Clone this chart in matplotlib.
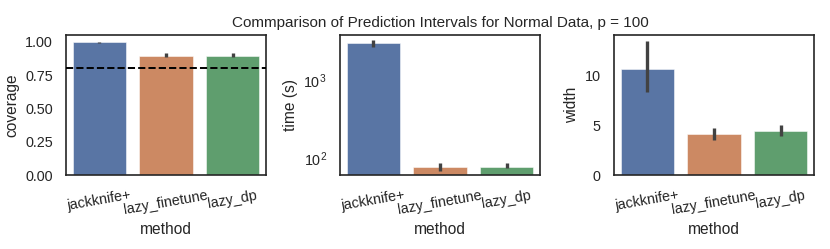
import matplotlib
matplotlib.use("Agg")
import matplotlib.pyplot as plt
import seaborn as sns
import numpy as np

sns.set_theme(style="white")
plt.rcParams['font.family'] = ['Liberation Sans', 'DejaVu Sans']

methods = ["jackknife+", "lazy_finetune", "lazy_dp"]

coverage_mean = [0.995, 0.895, 0.893]
coverage_lo = [0.990, 0.883, 0.882]
coverage_hi = [1.000, 0.918, 0.912]

time_mean = [3000, 75, 77]
time_lo = [2690, 68, 73]
time_hi = [3350, 85, 85]

width_mean = [10.6, 4.07, 4.43]
width_lo = [8.3, 3.5, 3.93]
width_hi = [13.4, 4.67, 5.0]

target_coverage = 0.8
title = "Commparison of Prediction Intervals for Normal Data, p = 100"

base = sns.color_palette("deep", 3)
colors = [sns.desaturate(c, 0.75) for c in base]

fig = plt.figure(figsize=(8.3, 2.49), dpi=100)
W, H = 830, 249
lefts = [66, 340, 614]
axes = []
for l in lefts:
    ax = fig.add_axes([l / W, (H - 175) / H, 200 / W, 140 / H])
    axes.append(ax)

tick_fs = 10.4
label_fs = 11.2
title_fs = 11.0

def draw(ax, mean, lo, hi, ylabel):
    x = np.arange(len(methods))
    ax.bar(x, mean, width=0.8, color=colors, edgecolor=(1, 1, 1, 0.6), linewidth=0.6, zorder=2)
    ax.vlines(x, lo, hi, color=".26", linewidth=2.4, zorder=3, capstyle="butt")
    ax.set_xticks(x)
    ax.set_xticklabels(methods, rotation=10, fontsize=tick_fs)
    ax.set_xlim(-0.5, len(methods) - 0.5)
    ax.set_xlabel("method", fontsize=label_fs)
    ax.set_ylabel(ylabel, fontsize=label_fs)
    ax.tick_params(axis="y", labelsize=tick_fs)
    for s in ax.spines.values():
        s.set_color(".15")
        s.set_linewidth(1.2)

draw(axes[0], coverage_mean, coverage_lo, coverage_hi, "coverage")
axes[0].axhline(target_coverage, color="black", linestyle="--", linewidth=1.4, zorder=4)
axes[0].set_ylim(0, 1.05)
axes[0].set_yticks([0, 0.25, 0.5, 0.75, 1.0])
axes[0].set_yticklabels(["0.00", "0.25", "0.50", "0.75", "1.00"])

draw(axes[1], time_mean, time_lo, time_hi, "time (s)")
axes[1].set_yscale("log")
axes[1].set_ylim(60, 3840)
axes[1].minorticks_off()
axes[1].set_title(title, fontsize=title_fs, pad=6)

draw(axes[2], width_mean, width_lo, width_hi, "width")
axes[2].set_ylim(0, 14.0)
axes[2].set_yticks([0, 5, 10])

fig.savefig("out.png", dpi=100)
